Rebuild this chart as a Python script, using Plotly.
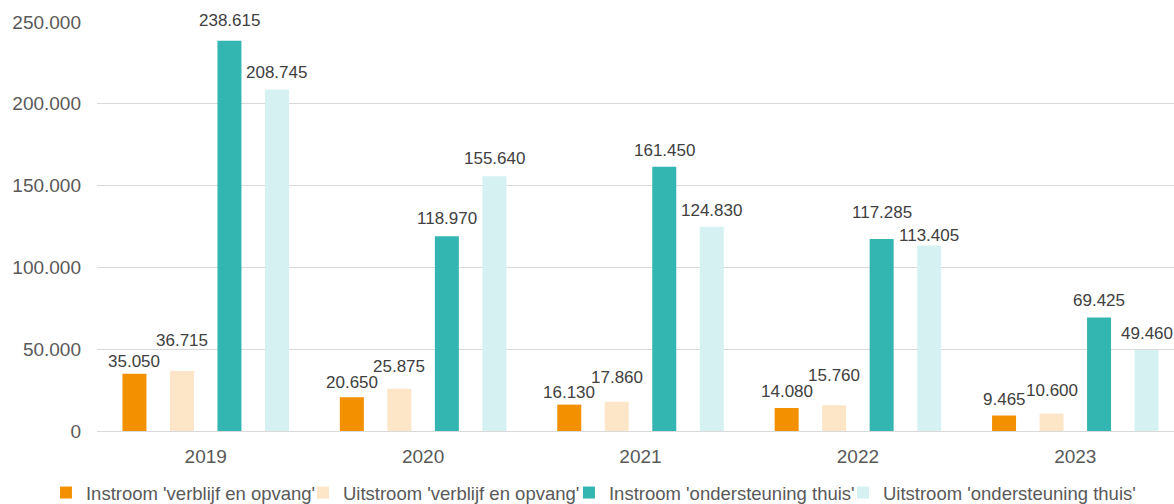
import plotly.graph_objects as go

years = ["2019", "2020", "2021", "2022", "2023"]
instroom_vo = [35050, 20650, 16130, 14080, 9465]
uitstroom_vo = [36715, 25875, 17860, 15760, 10600]
instroom_ot = [238615, 118970, 161450, 117285, 69425]
uitstroom_ot = [208745, 155640, 124830, 113405, 49460]

names = ["Instroom 'verblijf en opvang'", "Uitstroom 'verblijf en opvang'",
         "Instroom 'ondersteuning thuis'", "Uitstroom 'ondersteuning thuis'"]
values = [instroom_vo, uitstroom_vo, instroom_ot, uitstroom_ot]
colors = ["#F39000", "#FDE5C8", "#33B5B2", "#D5F1F1"]

# styling: label placement (pixel offsets, as in the original label layout)
slot_shift = [-71.25, -23.75, 23.75, 71.25]
label_lift = [
    [12, 15, 12, 16, 16],
    [30, 22, 24, 30, 23],
    [20, 18, 16, 27, 17],
    [17, 18, 16, 10, 17],
]
legend_widths = [212, 221, 229, 262]

def fmt(v):
    return f"{v:,}".replace(",", ".")

FONT = "Liberation Sans, Arial"

fig = go.Figure()
for name, vals, col, lw in zip(names, values, colors, legend_widths):
    fig.add_trace(go.Bar(x=years, y=vals, name=name, marker_color=col,
                         marker_line_width=0, legendwidth=lw))

annotations = []
for i, vals in enumerate(values):
    for j, v in enumerate(vals):
        annotations.append(dict(
            x=j, y=v, xref="x", yref="y", text=fmt(v), showarrow=False,
            xshift=slot_shift[i], yshift=label_lift[i][j], yanchor="middle",
            font=dict(size=17, color="#404040", family=FONT),
        ))

fig.update_layout(
    width=1174, height=504,
    margin=dict(l=97, r=0, t=22, b=73, autoexpand=False),
    plot_bgcolor="white", paper_bgcolor="white",
    separators=",.",
    barmode="group", bargap=0.126, bargroupgap=0.495,
    font=dict(family=FONT, size=19, color="#595959"),
    annotations=annotations,
    xaxis=dict(type="category", range=[-0.5, 4.454], showline=True,
               linecolor="#D9D9D9", linewidth=1.3, ticks="",
               tickfont=dict(size=19, color="#595959"), ticklabelstandoff=8,
               automargin=False),
    yaxis=dict(range=[0, 250000], dtick=50000, tickformat=",d",
               showgrid=True, gridcolor="#D9D9D9", zeroline=False,
               tickfont=dict(size=19, color="#595959"), ticklabelstandoff=15,
               automargin=False),
    legend=dict(orientation="h", x=-0.0474, xanchor="left", y=-0.1516, yanchor="middle",
                font=dict(size=18.5, color="#595959"), itemwidth=30,
                entrywidthmode="pixels", tracegroupgap=0),
)
fig.write_html("out.html", config={"displayModeBar": False},
               post_script="document.body.style.margin='0';")
